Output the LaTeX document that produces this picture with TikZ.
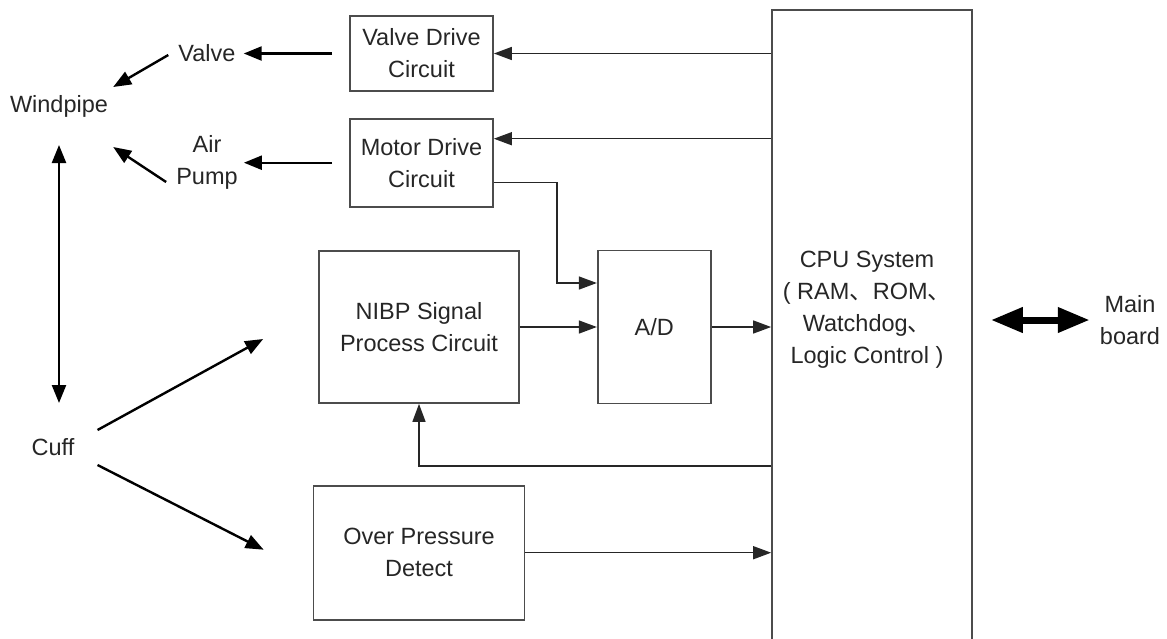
\documentclass[tikz,border=0pt]{standalone}
\usepackage{fontspec}
\setmainfont{Liberation Sans}
\newfontfamily\cjk{Noto Sans CJK SC}
\usetikzlibrary{positioning, arrows.meta, calc}

\begin{document}
\begin{tikzpicture}[x=1pt, y=-1pt, >={Triangle[length=18pt,width=13pt]},
    every node/.style={font=\fontsize{23.5}{32}\selectfont, text=black!85, inner sep=0pt, align=center},
    blk/.style={draw=black!70, line width=1.7pt},
    wire/.style={->, line width=1.5pt, black!85},
    thk/.style={->, line width=2.4pt, black, >={Triangle[length=18pt,width=14pt]}}]
      \useasboundingbox (0,0) rectangle (1167,638);
      \clip (0,0) rectangle (1167,638);

      \node[blk, minimum width=143pt, minimum height=75pt] (vdc) at (421.5,53.5) {Valve Drive\\Circuit};
      \node[blk, minimum width=143pt, minimum height=88pt] (mdc) [below=26pt of vdc] {Motor Drive\\Circuit};
      \node[blk, minimum width=200pt, minimum height=152pt] (nibp) at (419,327) {NIBP Signal\\Process Circuit};
      \node[blk, minimum width=113pt, minimum height=153pt] (ad) [right=77pt of nibp] {A/D};
      \node[blk, minimum width=211pt, minimum height=134pt] (opd) [below=81pt of nibp] {Over Pressure\\Detect};
      \node[blk, minimum width=200pt, minimum height=640pt] (cpu) at (872,330) {};
      \node (cpulbl) at (867,310) {CPU System\\( RAM{\cjk 、}ROM{\cjk 、}\\Watchdog{\cjk 、}\\Logic Control )};

      \node (valve) at (207,53.5) {Valve};
      \node (pump) at (207,162.5) {Air\\Pump};
      \node (wind) at (59,106) {Windpipe};
      \node (cuff) at (53,447) {Cuff};
      \node (mb) at (1130,320) {Main\\board};

      \coordinate (mdcin) at ([yshift=24pt]mdc.east);
      \coordinate (mdcout) at ([yshift=-20pt]mdc.east);
      \coordinate (adin) at ([yshift=44pt]ad.west);
      \coordinate (fb) at ([yshift=-62pt]nibp.south);
      \coordinate (cufftop) at ([yshift=44pt]cuff.center);

      % CPU side
      \draw[wire] (cpu.west |- vdc.east) -- (vdc.east);
      \draw[wire] (cpu.west |- mdcin) -- (mdcin);
      \draw[wire] (mdcout) -| ([xshift=-40pt]adin) -- (adin);
      \draw[wire] (nibp.east) -- (nibp.east -| ad.west);
      \draw[wire] (ad.east) -- (ad.east -| cpu.west);
      \draw[wire] (cpu.west |- fb) -| (nibp.south);
      \draw[wire] (opd.east) -- (opd.east -| cpu.west);
      \draw[<->, line width=7pt, >={Triangle[length=32pt,width=24pt]}, shorten <=18pt, shorten >=10pt] (cpu.east |- mb.west) -- (mb.west);

      % pneumatic side
      \draw[thk, shorten <=17pt, shorten >=8pt] (vdc.west) -- (vdc.west -| valve.east);
      \draw[thk, shorten <=17pt, shorten >=6pt] (mdc.west) -- (mdc.west -| pump.east);
      \draw[thk] ([xshift=-10pt,yshift=-1.5pt]valve.west) -- ([xshift=5pt,yshift=19pt]wind.east);
      \draw[thk] ([xshift=-10pt,yshift=-19.5pt]pump.west) -- ([xshift=5pt,yshift=-41pt]wind.east);
      \draw[thk, <->] ([yshift=-39pt]wind.center) -- (wind.center |- cufftop);
      \draw[thk] ([xshift=23pt,yshift=17pt]cuff.east) -- ([xshift=-55pt,yshift=-12pt]nibp.west);
      \draw[thk] ([xshift=23pt,yshift=-18pt]cuff.east) -- ([xshift=-49pt,yshift=3pt]opd.west);
\end{tikzpicture}
\end{document}
